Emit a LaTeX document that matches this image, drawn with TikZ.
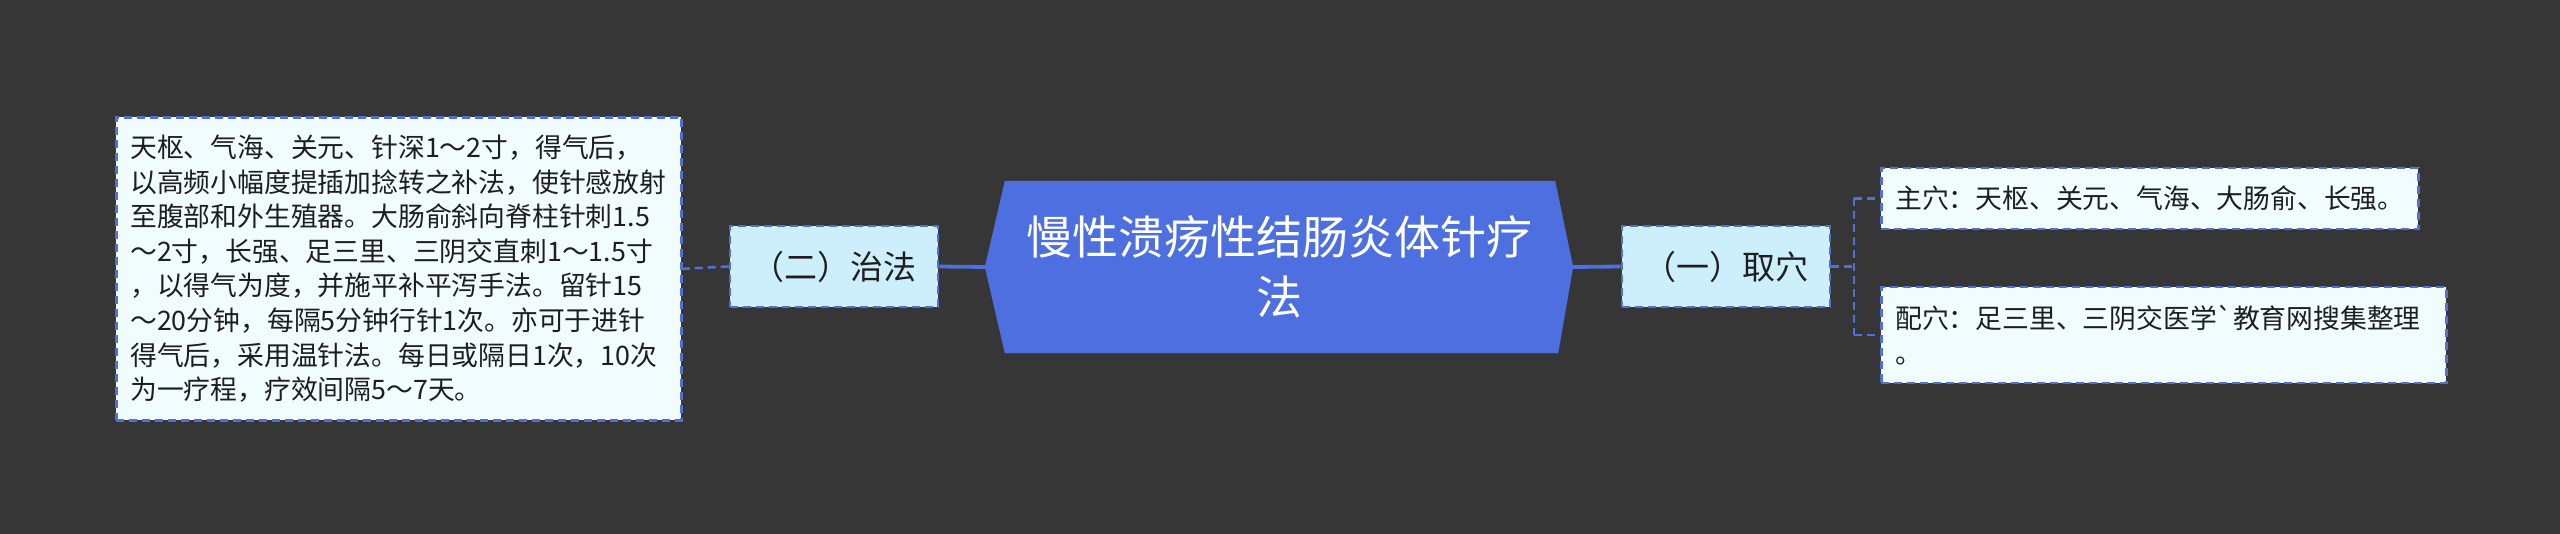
\documentclass[tikz,border=0pt]{standalone}
\usepackage{fontspec}
\newfontfamily\cjk{Noto Sans CJK SC}
\definecolor{bg}{HTML}{363636}
\definecolor{rootfill}{HTML}{4D6FE0}
\definecolor{bordc}{HTML}{5070D8}
\definecolor{midfill}{HTML}{CDEFFC}
\definecolor{leaffill}{HTML}{F0FCFE}
\definecolor{txt}{HTML}{1E1E1E}
\tikzset{
  leafbox/.style={draw=bordc, dash pattern=on 8pt off 5pt, line width=2.6pt, fill=leaffill,
    inner xsep=14pt, inner ysep=6pt, align=left, text=txt,
    font=\cjk\fontsize{26.8}{34.6}\selectfont},
  midbox/.style={draw=bordc, dash pattern=on 8pt off 5pt, line width=2.6pt, fill=midfill,
    inner sep=0pt, align=center, text=txt,
    font=\cjk\fontsize{33}{40}\selectfont},
  rootnode/.style={inner sep=0pt, align=center, text=white,
    font=\cjk\fontsize{46}{60}\selectfont},
  conn/.style={draw=rootfill, line width=3.8pt},
  dconn/.style={draw=bordc, line width=2.6pt, dash pattern=on 8pt off 5pt},
}
\begin{document}
\begin{tikzpicture}[x=1pt,y=-1pt]
\fill[bg] (0,0) rectangle (2560,534);
\useasboundingbox (0,0) rectangle (2560,534);

% root
\node[rootnode, minimum width=588pt, minimum height=172pt] (root) at (1279,267) {};
\fill[rootfill] (root.west) -- ([xshift=20pt]root.north west) -- ([xshift=-18pt]root.north east)
  -- (root.east) -- ([xshift=-15pt]root.south east) -- ([xshift=20pt]root.south west) -- cycle;
\node[rootnode] (roottext) at (root.center) {慢性溃疡性结肠炎体针疗\\法};

% level 1
\node[midbox, minimum width=208pt, minimum height=81pt] (zhifa) at (834,266.5) {（二）治法};
\node[midbox, minimum width=208pt, minimum height=81pt] (quxue) at (1726,266.5) {（一）取穴};

% leaves
\node[leafbox, anchor=north west, text width=537pt, minimum height=303pt] (left) at (115,116) {天枢、气海、关元、针深1～2寸，得气后，\\以高频小幅度提插加捻转之补法，使针感放射\\至腹部和外生殖器。大肠俞斜向脊柱针刺1.5\\～2寸，长强、足三里、三阴交直刺1～1.5寸\\，以得气为度，并施平补平泻手法。留针15\\～20分钟，每隔5分钟行针1次。亦可于进针\\得气后，采用温针法。每日或隔日1次，10次\\为一疗程，疗效间隔5～7天。};
\node[leafbox, anchor=west, text width=509pt, minimum height=61pt] (top) at (1880,198.5) {主穴：天枢、关元、气海、大肠俞、长强。};
\node[leafbox, anchor=west, text width=537pt, minimum height=96pt] (bot) at (1880,335) {配穴：足三里、三阴交医学`教育网搜集整理\\。};

% connectors
\draw[conn] (root.west) -- (zhifa.east);
\draw[conn] (root.east) -- (quxue.west);
\draw[dconn] (zhifa.west) -- (left.east);
\coordinate (jn) at (1854,266.5);
\draw[dconn] (quxue.east) -- (jn);
\draw[dconn] (jn |- top.west) -- (jn |- bot.west);
\draw[dconn] (jn |- top.west) -- (top.west);
\draw[dconn] (jn |- bot.west) -- (bot.west);
\end{tikzpicture}
\end{document}
